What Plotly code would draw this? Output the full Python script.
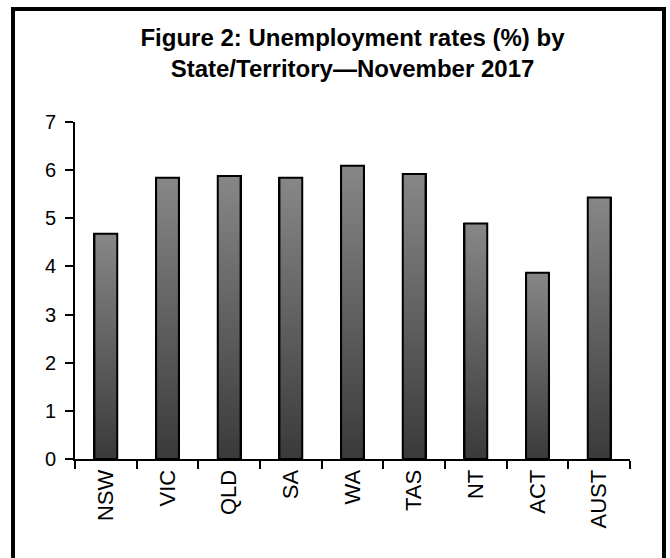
import plotly.graph_objects as go

categories = ["NSW", "VIC", "QLD", "SA", "WA", "TAS", "NT", "ACT", "AUST"]
rates = [4.68, 5.84, 5.88, 5.84, 6.09, 5.92, 4.89, 3.87, 5.43]
y_ticks = [0, 1, 2, 3, 4, 5, 6, 7]
title_text = "Figure 2: Unemployment rates (%) by<br>State/Territory\u2014November 2017"

FONT = "Arial, 'Liberation Sans', sans-serif"
BAR_W = 0.37
TOP_C = "#878787"
BOT_C = "#3a3a3a"

W, H = 670, 558
ML, MR, MT, MB = 75, 40, 122, 99
PW, PH = W - ML - MR, H - MT - MB

fig = go.Figure()
idx = list(range(len(categories)))

# base bars (library bars) with outline
fig.add_trace(go.Bar(
    x=idx, y=rates, width=BAR_W,
    marker=dict(color="#606060", line=dict(color="black", width=2)),
    hoverinfo="skip", showlegend=False,
))

# gradient overlay for each bar, derived from the same data
for i, v in zip(idx, rates):
    h = BAR_W / 2
    fig.add_trace(go.Scatter(
        x=[i - h, i + h, i + h, i - h, i - h],
        y=[0, 0, v, v, 0],
        mode="lines", fill="toself",
        fillgradient=dict(type="vertical", colorscale=[[0, BOT_C], [1, TOP_C]]),
        line=dict(color="black", width=2),
        hoverinfo="skip", showlegend=False,
    ))

def px_x(p):
    return (p - ML) / PW

def px_y(p):
    return (H - MB - p) / PH

fig.add_shape(type="rect", xref="paper", yref="paper",
              x0=px_x(13), x1=px_x(664), y0=px_y(565), y1=px_y(9),
              line=dict(color="black", width=4), fillcolor="rgba(0,0,0,0)", layer="above")

fig.update_layout(
    width=W, height=H,
    margin=dict(l=ML, r=MR, t=MT, b=MB, pad=0),
    paper_bgcolor="white", plot_bgcolor="white",
    font=dict(family=FONT, color="black"),
    title=dict(text="<b>" + title_text + "</b>", x=0.5, xref="paper", xanchor="center",
               y=1 - 46 / H, yref="container", yanchor="top",
               font=dict(family=FONT, size=24, color="black")),
    showlegend=False,
    bargap=0,
)

fig.update_xaxes(
    range=[-0.5, len(categories) - 0.5],
    tickmode="array", tickvals=idx, ticktext=categories,
    tickangle=-90, ticks="", ticklen=0,
    ticklabelstandoff=0,
    tickfont=dict(family=FONT, size=22, color="black"),
    showline=True, linecolor="black", linewidth=2,
    showgrid=False, zeroline=False,
    minor=dict(tickmode="linear", tick0=-0.5, dtick=1, ticks="outside",
               ticklen=8, tickwidth=2, tickcolor="black", showgrid=False),
    fixedrange=True,
)

fig.update_yaxes(
    range=[0, 7], tickmode="array", tickvals=y_ticks,
    ticks="outside", ticklen=8, tickwidth=2, tickcolor="black",
    ticklabelstandoff=5,
    tickfont=dict(family=FONT, size=20, color="black"),
    showline=True, linecolor="black", linewidth=2,
    showgrid=False, zeroline=False, fixedrange=True,
)

fig.write_html("out.html")
